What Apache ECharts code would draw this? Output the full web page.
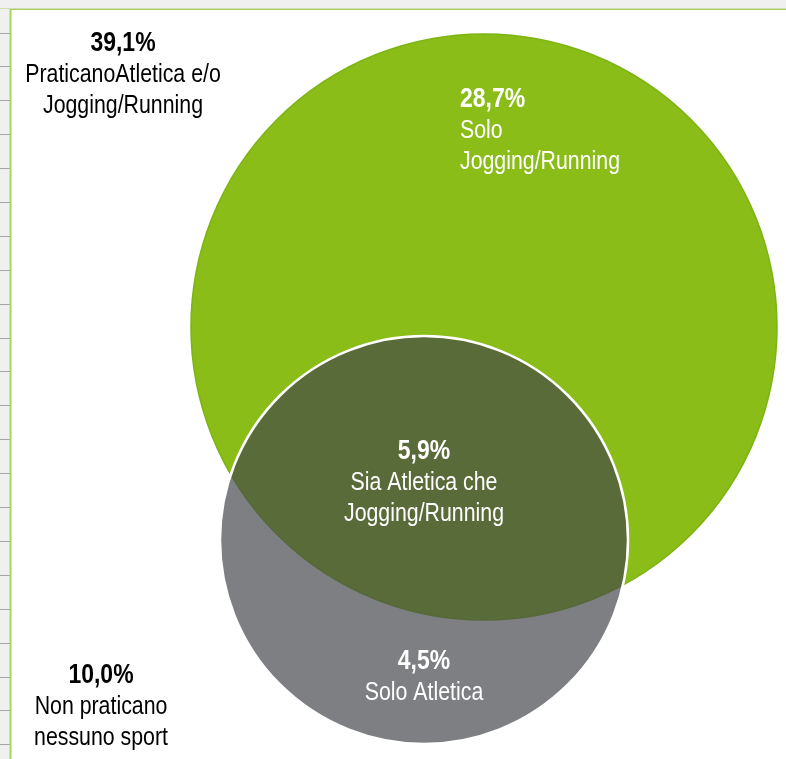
<!DOCTYPE html>
<html><head><meta charset="utf-8">
<script src="https://cdn.jsdelivr.net/npm/echarts@6/dist/echarts.min.js"></script>
<style>html,body{margin:0;padding:0;background:#fff}#c{width:786px;height:759px}</style>
</head><body><div id="c"></div>
<script>
// ---- data ----
const setNames = ['Jogging/Running', 'Atletica'];
const regionValues = [39.1, 28.7, 5.9, 4.5, 10.0];
const regionTexts = [
  ['PraticanoAtletica e/o', 'Jogging/Running'],
  ['Solo', 'Jogging/Running'],
  ['Sia Atletica che', 'Jogging/Running'],
  ['Solo Atletica'],
  ['Non praticano', 'nessuno sport']
];

// ---- layout (pixels in a 786x759 frame) ----
const circleLayout = [
  { cx: 484, cy: 327, r: 293, fill: '#8abd17', stroke: '#7db312', lw: 1.5 },
  { cx: 424, cy: 540, r: 204, fill: 'rgba(68,70,74,0.69)', stroke: '#ffffff', lw: 2.5 }
];
const labelLayout = [
  { x: 123, y: 74, align: 'center', color: '#000000' },
  { x: 460, y: 130, align: 'left', color: '#ffffff' },
  { x: 424, y: 482, align: 'center', color: '#ffffff' },
  { x: 424, y: 677, align: 'center', color: '#ffffff' },
  { x: 101, y: 706, align: 'center', color: '#000000' }
];

const FONT = '"Liberation Sans", Arial, sans-serif';
const NARROW = 0.82;
const fmt = v => v.toFixed(1).replace('.', ',') + '%';

const circleData = circleLayout.map((c, i) => ({ name: setNames[i], value: [c.cx, c.cy, c.r] }));
const labelData = regionValues.map((v, i) => ({ value: [labelLayout[i].x, labelLayout[i].y], idx: i }));

// background frame decoration
const graphics = [
  { type: 'rect', shape: { x: 0, y: 0, width: 786, height: 759 }, style: { fill: '#f0f0f0' }, z: -10 },
  { type: 'rect', shape: { x: 11, y: 10, width: 775, height: 749 }, style: { fill: '#ffffff' }, z: -9 },
  { type: 'line', shape: { x1: 0, y1: 8.5, x2: 786, y2: 8.5 }, style: { stroke: '#cfdcb8', lineWidth: 1 }, z: -8 },
  { type: 'line', shape: { x1: 10.5, y1: 9.5, x2: 786, y2: 9.5 }, style: { stroke: '#a9d45c', lineWidth: 1.2 }, z: -8 },
  { type: 'line', shape: { x1: 10.5, y1: 9, x2: 10.5, y2: 759 }, style: { stroke: '#a9d45c', lineWidth: 2 }, z: -8 }
];
for (let y = 32.5; y < 759; y += 33.9) {
  const yy = Math.round(y) + 0.5;
  graphics.push({ type: 'line', shape: { x1: 0, y1: yy, x2: 10, y2: yy }, style: { stroke: '#a6a6a6', lineWidth: 1 }, z: -8 });
}

const chart = echarts.init(document.getElementById('c'), null, { renderer: 'canvas' });
chart.setOption({
  animation: false,
  backgroundColor: '#ffffff',
  graphic: graphics,
  grid: { left: 0, right: 0, top: 0, bottom: 0 },
  xAxis: { type: 'value', min: 0, max: 786, show: false },
  yAxis: { type: 'value', min: 0, max: 759, inverse: true, show: false },
  series: [
    {
      type: 'custom',
      z: 2,
      data: circleData,
      renderItem: function (params, api) {
        const c = api.coord([api.value(0), api.value(1)]);
        const r = api.size([api.value(2), 0])[0];
        const L = circleLayout[params.dataIndex];
        return {
          type: 'circle',
          shape: { cx: c[0], cy: c[1], r: r },
          style: { fill: L.fill, stroke: L.stroke, lineWidth: L.lw }
        };
      }
    },
    {
      type: 'custom',
      z: 5,
      data: labelData,
      renderItem: function (params, api) {
        const i = params.dataIndex;
        const p = api.coord([api.value(0), api.value(1)]);
        const L = labelLayout[i];
        const lines = ['{b|' + fmt(regionValues[i]) + '}'].concat(regionTexts[i].map(t => '{n|' + t + '}'));
        return {
          type: 'text',
          x: p[0], y: p[1],
          scaleX: NARROW, scaleY: 1,
          style: {
            text: lines.join('\n'),
            align: L.align,
            verticalAlign: 'middle',
            fill: L.color,
            rich: {
              b: { fontFamily: FONT, fontWeight: 'bold', fontSize: 28, lineHeight: 32, fill: L.color, align: L.align },
              n: { fontFamily: FONT, fontSize: 26, lineHeight: 31, fill: L.color, align: L.align }
            }
          }
        };
      }
    }
  ]
});
</script>
</body></html>
